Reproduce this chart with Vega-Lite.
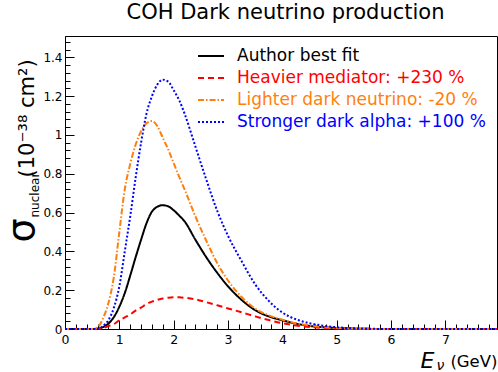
{
"$schema": "https://vega.github.io/schema/vega-lite/v6.json",
"width": 432, "height": 293,
"autosize": {"type": "none"},
"padding": {"left": 65, "top": 36, "right": 1, "bottom": 43},
"title": {"text": "COH Dark neutrino production", "font": "DejaVu Sans", "fontSize": 21, "fontWeight": "normal", "color": "black", "anchor": "middle", "frame": "group", "dx": 4.5, "dy": 6, "offset": 2, "baseline": "alphabetic"},
"config": {"view": {"stroke": "black", "strokeWidth": 1}, "font": "DejaVu Sans", "axis": {"titleColor": "black", "titleFontWeight": "normal", "titleFont": "DejaVu Sans"}},
"datasets": {
"d": [
{"E":0,"s":0,"c":"Author best fit"},{"E":0.5,"s":0,"c":"Author best fit"},{"E":0.6,"s":0.002,"c":"Author best fit"},{"E":0.7,"s":0.01,"c":"Author best fit"},{"E":0.8,"s":0.028,"c":"Author best fit"},{"E":0.9,"s":0.062,"c":"Author best fit"},{"E":1.0,"s":0.115,"c":"Author best fit"},{"E":1.1,"s":0.185,"c":"Author best fit"},{"E":1.2,"s":0.275,"c":"Author best fit"},{"E":1.3,"s":0.37,"c":"Author best fit"},{"E":1.4,"s":0.46,"c":"Author best fit"},{"E":1.5,"s":0.545,"c":"Author best fit"},{"E":1.6,"s":0.605,"c":"Author best fit"},{"E":1.7,"s":0.63,"c":"Author best fit"},{"E":1.8,"s":0.638,"c":"Author best fit"},{"E":1.9,"s":0.632,"c":"Author best fit"},{"E":2.0,"s":0.612,"c":"Author best fit"},{"E":2.1,"s":0.585,"c":"Author best fit"},{"E":2.2,"s":0.555,"c":"Author best fit"},{"E":2.4,"s":0.46,"c":"Author best fit"},{"E":2.6,"s":0.37,"c":"Author best fit"},{"E":2.8,"s":0.29,"c":"Author best fit"},{"E":3.0,"s":0.22,"c":"Author best fit"},{"E":3.25,"s":0.15,"c":"Author best fit"},{"E":3.5,"s":0.097,"c":"Author best fit"},{"E":3.75,"s":0.065,"c":"Author best fit"},{"E":4.0,"s":0.045,"c":"Author best fit"},{"E":4.25,"s":0.028,"c":"Author best fit"},{"E":4.5,"s":0.016,"c":"Author best fit"},{"E":4.75,"s":0.009,"c":"Author best fit"},{"E":5.0,"s":0.005,"c":"Author best fit"},{"E":5.5,"s":0.001,"c":"Author best fit"},{"E":6.0,"s":0,"c":"Author best fit"},{"E":7.95,"s":0,"c":"Author best fit"},
{"E":0,"s":0,"c":"Heavier mediator: +230 %"},{"E":0.5,"s":0,"c":"Heavier mediator: +230 %"},{"E":0.6,"s":0,"c":"Heavier mediator: +230 %"},{"E":0.7,"s":0.005,"c":"Heavier mediator: +230 %"},{"E":0.8,"s":0.015,"c":"Heavier mediator: +230 %"},{"E":0.9,"s":0.025,"c":"Heavier mediator: +230 %"},{"E":1.0,"s":0.045,"c":"Heavier mediator: +230 %"},{"E":1.1,"s":0.06,"c":"Heavier mediator: +230 %"},{"E":1.2,"s":0.075,"c":"Heavier mediator: +230 %"},{"E":1.3,"s":0.095,"c":"Heavier mediator: +230 %"},{"E":1.4,"s":0.11,"c":"Heavier mediator: +230 %"},{"E":1.5,"s":0.128,"c":"Heavier mediator: +230 %"},{"E":1.6,"s":0.141,"c":"Heavier mediator: +230 %"},{"E":1.7,"s":0.15,"c":"Heavier mediator: +230 %"},{"E":1.8,"s":0.157,"c":"Heavier mediator: +230 %"},{"E":1.9,"s":0.161,"c":"Heavier mediator: +230 %"},{"E":2.0,"s":0.163,"c":"Heavier mediator: +230 %"},{"E":2.1,"s":0.163,"c":"Heavier mediator: +230 %"},{"E":2.2,"s":0.161,"c":"Heavier mediator: +230 %"},{"E":2.4,"s":0.153,"c":"Heavier mediator: +230 %"},{"E":2.6,"s":0.138,"c":"Heavier mediator: +230 %"},{"E":2.8,"s":0.122,"c":"Heavier mediator: +230 %"},{"E":3.0,"s":0.106,"c":"Heavier mediator: +230 %"},{"E":3.25,"s":0.086,"c":"Heavier mediator: +230 %"},{"E":3.5,"s":0.065,"c":"Heavier mediator: +230 %"},{"E":3.75,"s":0.046,"c":"Heavier mediator: +230 %"},{"E":4.0,"s":0.03,"c":"Heavier mediator: +230 %"},{"E":4.25,"s":0.018,"c":"Heavier mediator: +230 %"},{"E":4.5,"s":0.01,"c":"Heavier mediator: +230 %"},{"E":4.75,"s":0.006,"c":"Heavier mediator: +230 %"},{"E":5.0,"s":0.003,"c":"Heavier mediator: +230 %"},{"E":5.5,"s":0.001,"c":"Heavier mediator: +230 %"},{"E":6.0,"s":0,"c":"Heavier mediator: +230 %"},{"E":7.95,"s":0,"c":"Heavier mediator: +230 %"},
{"E":0,"s":0,"c":"Lighter dark neutrino: -20 %"},{"E":0.5,"s":0,"c":"Lighter dark neutrino: -20 %"},{"E":0.6,"s":0.008,"c":"Lighter dark neutrino: -20 %"},{"E":0.7,"s":0.055,"c":"Lighter dark neutrino: -20 %"},{"E":0.8,"s":0.135,"c":"Lighter dark neutrino: -20 %"},{"E":0.9,"s":0.27,"c":"Lighter dark neutrino: -20 %"},{"E":1.0,"s":0.5,"c":"Lighter dark neutrino: -20 %"},{"E":1.1,"s":0.72,"c":"Lighter dark neutrino: -20 %"},{"E":1.2,"s":0.85,"c":"Lighter dark neutrino: -20 %"},{"E":1.3,"s":0.95,"c":"Lighter dark neutrino: -20 %"},{"E":1.4,"s":1.02,"c":"Lighter dark neutrino: -20 %"},{"E":1.5,"s":1.06,"c":"Lighter dark neutrino: -20 %"},{"E":1.6,"s":1.072,"c":"Lighter dark neutrino: -20 %"},{"E":1.7,"s":1.045,"c":"Lighter dark neutrino: -20 %"},{"E":1.8,"s":0.985,"c":"Lighter dark neutrino: -20 %"},{"E":1.9,"s":0.925,"c":"Lighter dark neutrino: -20 %"},{"E":2.0,"s":0.855,"c":"Lighter dark neutrino: -20 %"},{"E":2.1,"s":0.785,"c":"Lighter dark neutrino: -20 %"},{"E":2.2,"s":0.72,"c":"Lighter dark neutrino: -20 %"},{"E":2.4,"s":0.58,"c":"Lighter dark neutrino: -20 %"},{"E":2.6,"s":0.455,"c":"Lighter dark neutrino: -20 %"},{"E":2.8,"s":0.34,"c":"Lighter dark neutrino: -20 %"},{"E":3.0,"s":0.25,"c":"Lighter dark neutrino: -20 %"},{"E":3.25,"s":0.165,"c":"Lighter dark neutrino: -20 %"},{"E":3.5,"s":0.105,"c":"Lighter dark neutrino: -20 %"},{"E":3.75,"s":0.07,"c":"Lighter dark neutrino: -20 %"},{"E":4.0,"s":0.048,"c":"Lighter dark neutrino: -20 %"},{"E":4.25,"s":0.03,"c":"Lighter dark neutrino: -20 %"},{"E":4.5,"s":0.018,"c":"Lighter dark neutrino: -20 %"},{"E":4.75,"s":0.01,"c":"Lighter dark neutrino: -20 %"},{"E":5.0,"s":0.005,"c":"Lighter dark neutrino: -20 %"},{"E":5.5,"s":0.001,"c":"Lighter dark neutrino: -20 %"},{"E":6.0,"s":0,"c":"Lighter dark neutrino: -20 %"},{"E":7.95,"s":0,"c":"Lighter dark neutrino: -20 %"},
{"E":0,"s":0,"c":"Stronger dark alpha: +100 %"},{"E":0.5,"s":0,"c":"Stronger dark alpha: +100 %"},{"E":0.6,"s":0,"c":"Stronger dark alpha: +100 %"},{"E":0.7,"s":0.015,"c":"Stronger dark alpha: +100 %"},{"E":0.8,"s":0.046,"c":"Stronger dark alpha: +100 %"},{"E":0.9,"s":0.11,"c":"Stronger dark alpha: +100 %"},{"E":1.0,"s":0.22,"c":"Stronger dark alpha: +100 %"},{"E":1.1,"s":0.4,"c":"Stronger dark alpha: +100 %"},{"E":1.2,"s":0.58,"c":"Stronger dark alpha: +100 %"},{"E":1.3,"s":0.78,"c":"Stronger dark alpha: +100 %"},{"E":1.4,"s":0.96,"c":"Stronger dark alpha: +100 %"},{"E":1.5,"s":1.11,"c":"Stronger dark alpha: +100 %"},{"E":1.6,"s":1.2,"c":"Stronger dark alpha: +100 %"},{"E":1.7,"s":1.26,"c":"Stronger dark alpha: +100 %"},{"E":1.8,"s":1.285,"c":"Stronger dark alpha: +100 %"},{"E":1.9,"s":1.275,"c":"Stronger dark alpha: +100 %"},{"E":2.0,"s":1.23,"c":"Stronger dark alpha: +100 %"},{"E":2.1,"s":1.18,"c":"Stronger dark alpha: +100 %"},{"E":2.2,"s":1.11,"c":"Stronger dark alpha: +100 %"},{"E":2.4,"s":0.94,"c":"Stronger dark alpha: +100 %"},{"E":2.6,"s":0.77,"c":"Stronger dark alpha: +100 %"},{"E":2.8,"s":0.61,"c":"Stronger dark alpha: +100 %"},{"E":3.0,"s":0.48,"c":"Stronger dark alpha: +100 %"},{"E":3.25,"s":0.35,"c":"Stronger dark alpha: +100 %"},{"E":3.5,"s":0.23,"c":"Stronger dark alpha: +100 %"},{"E":3.75,"s":0.145,"c":"Stronger dark alpha: +100 %"},{"E":4.0,"s":0.085,"c":"Stronger dark alpha: +100 %"},{"E":4.25,"s":0.05,"c":"Stronger dark alpha: +100 %"},{"E":4.5,"s":0.03,"c":"Stronger dark alpha: +100 %"},{"E":4.75,"s":0.017,"c":"Stronger dark alpha: +100 %"},{"E":5.0,"s":0.009,"c":"Stronger dark alpha: +100 %"},{"E":5.5,"s":0.002,"c":"Stronger dark alpha: +100 %"},{"E":6.0,"s":0,"c":"Stronger dark alpha: +100 %"},{"E":7.95,"s":0,"c":"Stronger dark alpha: +100 %"}
]
},
"data": {"name": "d"},
"resolve": {"axis": {"x": "independent", "y": "independent"}},
"layer": [
{
"mark": {"type": "line", "strokeWidth": 2, "interpolate": "monotone"},
"encoding": {
"x": {"field": "E", "type": "quantitative", "scale": {"domain": [0, 7.95], "nice": false, "zero": false},
 "axis": {"orient": "bottom", "values": [0,1,2,3,4,5,6,7], "format": "d", "tickSize": -9, "tickColor": "black", "tickWidth": 1, "labelPadding": 13, "labelFlush": false, "labelFont": "DejaVu Sans", "labelFontSize": 12.5, "labelColor": "black", "domainColor": "black", "grid": false, "title": null}},
"y": {"field": "s", "type": "quantitative", "scale": {"domain": [0, 1.51], "nice": false, "zero": false},
 "axis": {"orient": "left", "values": [0,0.2,0.4,0.6,0.8,1,1.2,1.4], "format": "~g", "tickSize": -9, "tickColor": "black", "tickWidth": 1, "labelPadding": 12, "labelFlush": false, "labelFont": "DejaVu Sans", "labelFontSize": 12, "labelColor": "black", "domainColor": "black", "grid": false, "title": null}},
"color": {"field": "c", "type": "nominal", "sort": null,
 "scale": {"domain": ["Author best fit", "Heavier mediator: +230 %", "Lighter dark neutrino: -20 %", "Stronger dark alpha: +100 %"], "range": ["#000000", "#ff0000", "#ff7f0e", "#0000ff"]},
 "legend": {"title": null, "orient": "none", "legendX": 132, "legendY": 6, "padding": 0, "symbolType": "stroke", "symbolSize": 676, "symbolStrokeWidth": 2, "labelFont": "DejaVu Sans", "labelFontSize": 17, "labelOffset": 12, "labelLimit": 400, "rowPadding": -4.4, "encode": {"labels": {"update": {"fill": {"scale": "color", "field": "value"}}}}}},
"strokeDash": {"field": "c", "type": "nominal", "sort": null,
 "scale": {"domain": ["Author best fit", "Heavier mediator: +230 %", "Lighter dark neutrino: -20 %", "Stronger dark alpha: +100 %"], "range": [[1, 0], [6, 4], [6, 2, 1.5, 2], [2, 2]]},
 "legend": {"title": null, "orient": "none", "legendX": 132, "legendY": 6, "padding": 0, "symbolType": "stroke", "symbolSize": 676, "symbolStrokeWidth": 2, "labelFont": "DejaVu Sans", "labelFontSize": 17, "labelOffset": 12, "labelLimit": 400, "rowPadding": -4.4, "encode": {"labels": {"update": {"fill": {"scale": "color", "field": "value"}}}}}}
}
},
{
"mark": {"type": "point", "opacity": 0, "size": 0},
"encoding": {
"x": {"field": "E", "type": "quantitative", "axis": {"orient": "bottom", "values": [0.2,0.4,0.6,0.8,1.2,1.4,1.6,1.8,2.2,2.4,2.6,2.8,3.2,3.4,3.6,3.8,4.2,4.4,4.6,4.8,5.2,5.4,5.6,5.8,6.2,6.4,6.6,6.8,7.2,7.4,7.6,7.8], "tickSize": -5, "tickColor": "black", "labels": false, "domain": false, "grid": false, "title": null}},
"y": {"field": "s", "type": "quantitative", "axis": {"orient": "left", "values": [0.04,0.08,0.12,0.16,0.24,0.28,0.32,0.36,0.44,0.48,0.52,0.56,0.64,0.68,0.72,0.76,0.84,0.88,0.92,0.96,1.04,1.08,1.12,1.16,1.24,1.28,1.32,1.36,1.44,1.48], "tickSize": -5, "tickColor": "black", "labels": false, "domain": false, "grid": false, "title": null}}
}
},
{
"mark": {"type": "point", "opacity": 0, "size": 0},
"encoding": {
"x": {"field": "E", "type": "quantitative", "axis": {"orient": "bottom", "labels": false, "ticks": false, "domain": false, "grid": false, "title": "E", "titleFontStyle": "italic", "titleFontSize": 22, "titleX": 355, "titleY": 38, "titleAlign": "left", "titleBaseline": "alphabetic", "titleAngle": 0}},
"y": {"field": "s", "type": "quantitative", "axis": {"orient": "left", "labels": false, "ticks": false, "domain": false, "grid": false, "title": "σ", "titleFontSize": 38, "titleX": -32, "titleY": 206, "titleAlign": "left", "titleBaseline": "alphabetic", "titleAngle": 270}}
}
},
{
"mark": {"type": "point", "opacity": 0, "size": 0},
"encoding": {
"x": {"field": "E", "type": "quantitative", "axis": {"orient": "bottom", "labels": false, "ticks": false, "domain": false, "grid": false, "title": "ν", "titleFontStyle": "italic", "titleFontSize": 14, "titleX": 371, "titleY": 40, "titleAlign": "left", "titleBaseline": "alphabetic", "titleAngle": 0}},
"y": {"field": "s", "type": "quantitative", "axis": {"orient": "left", "labels": false, "ticks": false, "domain": false, "grid": false, "title": "nuclear", "titleFontSize": 12, "titleX": -27, "titleY": 181, "titleAlign": "left", "titleBaseline": "alphabetic", "titleAngle": 270}}
}
},
{
"mark": {"type": "point", "opacity": 0, "size": 0},
"encoding": {
"x": {"field": "E", "type": "quantitative", "axis": {"orient": "bottom", "labels": false, "ticks": false, "domain": false, "grid": false, "title": "(GeV)", "titleFontSize": 16.5, "titleX": 432, "titleY": 37, "titleAlign": "right", "titleBaseline": "alphabetic", "titleAngle": 0}},
"y": {"field": "s", "type": "quantitative", "axis": {"orient": "left", "labels": false, "ticks": false, "domain": false, "grid": false, "title": "(10⁻³⁸ cm²)", "titleFontSize": 21, "titleX": -32, "titleY": 141, "titleAlign": "left", "titleBaseline": "alphabetic", "titleAngle": 270}}
}
}
]
}
